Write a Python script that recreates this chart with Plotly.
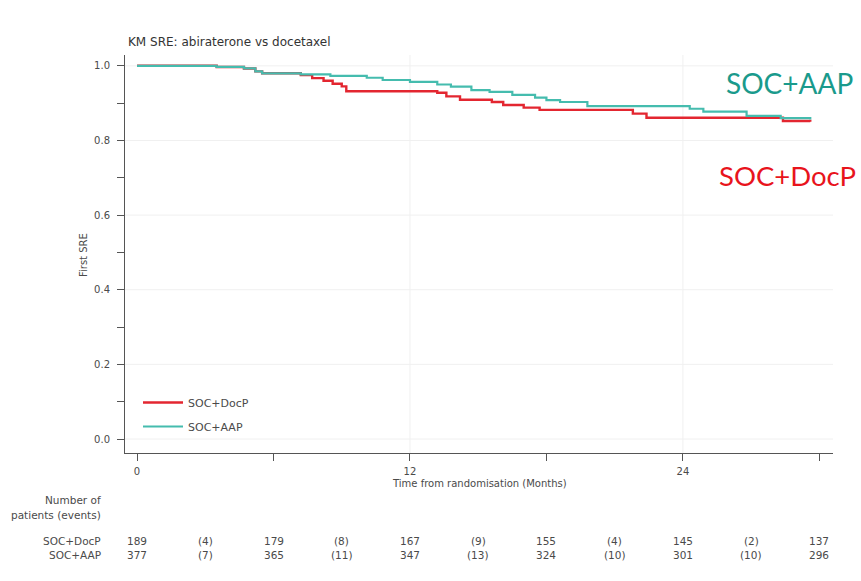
import plotly.graph_objects as go

# Kaplan-Meier step estimates (months, proportion free of first SRE)
doc_time = [0, 3.5, 4.7, 5.2, 5.5, 7.2, 7.7, 8.2, 8.6, 9.0, 9.2, 13.2, 13.6, 14.2,
            15.6, 16.1, 17.0, 17.7, 21.8, 22.4, 28.4, 29.6]
doc_surv = [1.0, 0.997, 0.993, 0.985, 0.98, 0.975, 0.967, 0.96, 0.952, 0.945, 0.932,
            0.928, 0.918, 0.909, 0.903, 0.895, 0.888, 0.882, 0.872, 0.861, 0.852, 0.850]

aap_time = [0, 3.5, 4.7, 5.2, 5.5, 7.2, 8.5, 10.1, 10.8, 12.0, 13.2, 13.8, 14.7, 15.5,
            16.5, 17.5, 18.0, 18.6, 19.8, 24.3, 24.9, 26.8, 28.3, 29.6]
aap_surv = [1.0, 0.997, 0.993, 0.985, 0.98, 0.977, 0.973, 0.968, 0.962, 0.957, 0.950,
            0.944, 0.935, 0.930, 0.922, 0.915, 0.908, 0.903, 0.892, 0.885, 0.877, 0.866,
            0.860, 0.856]

# Number at risk table (patients at 6-month marks, events in between)
risk_time = [0, 3, 6, 9, 12, 15, 18, 21, 24, 27, 30]
doc_risk = ["189", "(4)", "179", "(8)", "167", "(9)", "155", "(4)", "145", "(2)", "137"]
aap_risk = ["377", "(7)", "365", "(11)", "347", "(13)", "324", "(10)", "301", "(10)", "296"]

x_ticks = [0, 6, 12, 18, 24, 30]
x_tick_text = ["0", "", "12", "", "24", ""]
y_ticks = [0.0, 0.1, 0.2, 0.3, 0.4, 0.5, 0.6, 0.7, 0.8, 0.9, 1.0]
y_tick_text = ["0.0", "", "0.2", "", "0.4", "", "0.6", "", "0.8", "", "1.0"]

RED = "#e32630"
TEAL = "#45bcae"
RED_LABEL = "#e8141c"
TEAL_LABEL = "#1a9a8c"
GREY = "#4a4a4a"
FONT = "DejaVu Sans, sans-serif"

W, H = 861, 581
L, R, T, B = 125, 833, 55, 453  # plot area edges in pixels


def px(xpix):
    return (xpix - L) / (R - L)


def py(ypix):
    return (B - ypix) / (B - T)


fig = go.Figure()
fig.add_trace(go.Scatter(x=doc_time, y=doc_surv, mode="lines", name="SOC+DocP",
                         line=dict(color=RED, width=2.4, shape="hv"),
                         legendgroup="doc"))
fig.add_trace(go.Scatter(x=aap_time, y=aap_surv, mode="lines", name="SOC+AAP",
                         line=dict(color=TEAL, width=2.2, shape="hv"),
                         legendgroup="aap"))

fig.update_layout(
    width=W, height=H,
    margin=dict(l=L, r=W - R, t=T, b=H - B),
    paper_bgcolor="white", plot_bgcolor="white",
    font=dict(family=FONT, size=10, color=GREY),
    title=dict(text="KM SRE: abiraterone vs docetaxel", xref="container", yref="container",
               x=128 / W, xanchor="left", y=1 - 42 / H, yanchor="middle",
               font=dict(size=12, color="#333333", family=FONT)),
    showlegend=True,
    legend=dict(x=px(138), y=py(388), xanchor="left", yanchor="top", bgcolor="rgba(0,0,0,0)",
                font=dict(size=11, color=GREY, family=FONT), tracegroupgap=5,
                itemwidth=40),
    xaxis=dict(range=[-0.53, 30.6], tickvals=x_ticks, ticktext=x_tick_text,
               showline=True, linecolor="#555555", linewidth=1, ticks="outside",
               ticklen=7, tickcolor="#555555", showgrid=False, ticklabelstandoff=2,
               zeroline=False, tickfont=dict(size=10, color=GREY, family=FONT)),
    yaxis=dict(range=[-0.0375, 1.029], tickvals=y_ticks, ticktext=y_tick_text,
               showline=True, linecolor="#555555", linewidth=1, ticks="outside",
               ticklen=7, tickcolor="#555555", showgrid=False, ticklabelstandoff=5,
               zeroline=False, tickfont=dict(size=10, color=GREY, family=FONT)),
)

# faint gridlines at labelled ticks
for v in [0.0, 0.2, 0.4, 0.6, 0.8, 1.0]:
    fig.add_hline(y=v, line=dict(color="#f0f0f0", width=1), layer="below")
for v in [12, 24]:
    fig.add_vline(x=v, line=dict(color="#f0f0f0", width=1), layer="below")

small = dict(size=10.5, color=GREY, family=FONT)
annotations = []
for t, d, a in zip(risk_time, doc_risk, aap_risk):
    annotations.append(dict(x=t, y=py(541), xref="x", yref="paper", text=d,
                            xanchor="center", yanchor="middle", showarrow=False, font=small))
    annotations.append(dict(x=t, y=py(555), xref="x", yref="paper", text=a,
                            xanchor="center", yanchor="middle", showarrow=False, font=small))

for text, ypix in [("Number of", 500), ("patients (events)", 515),
                   ("SOC+DocP", 541), ("SOC+AAP", 555)]:
    annotations.append(dict(x=px(103), y=py(ypix), xref="paper", yref="paper", text=text,
                            xanchor="right", yanchor="middle", showarrow=False, font=small))

annotations += [
    dict(x=px(84), y=py(255), xref="paper", yref="paper", text="First SRE", textangle=-90,
         xanchor="center", yanchor="middle", showarrow=False,
         font=dict(size=10, color=GREY, family=FONT)),
    dict(x=px(480), y=py(483), xref="paper", yref="paper",
         text="Time from randomisation (Months)", xanchor="center", yanchor="middle",
         showarrow=False, font=dict(size=10, color=GREY, family=FONT)),
    dict(x=px(724), y=py(83), xref="paper", yref="paper", text="SOC+AAP",
         xanchor="left", yanchor="middle", showarrow=False,
         font=dict(size=28, color=TEAL_LABEL, family="Lato")),
    dict(x=px(717), y=py(175), xref="paper", yref="paper", text="SOC+DocP",
         xanchor="left", yanchor="middle", showarrow=False,
         font=dict(size=27.5, color=RED_LABEL, family="Lato")),
]
fig.update_layout(annotations=annotations)

fig.write_html("out.html")
